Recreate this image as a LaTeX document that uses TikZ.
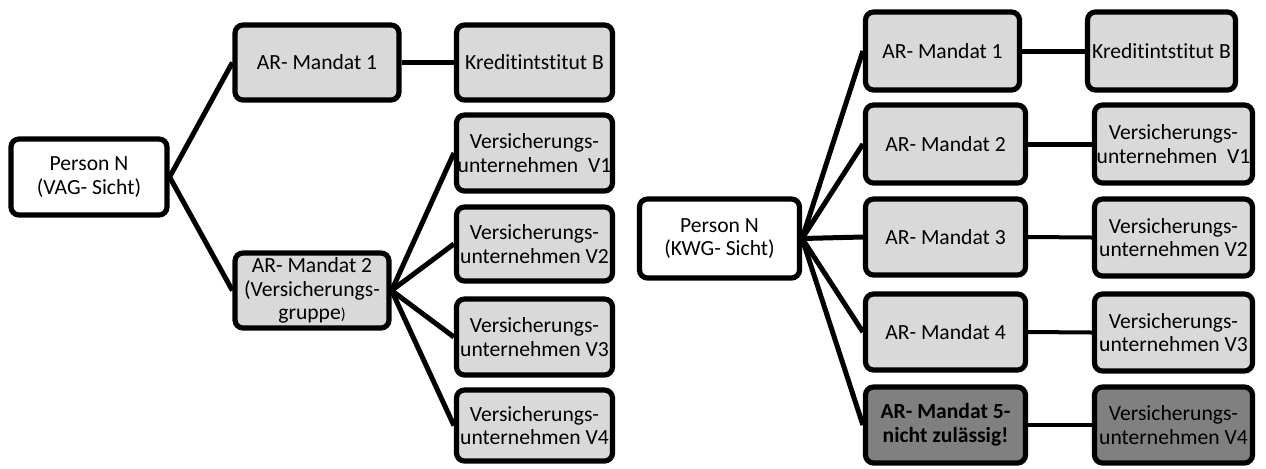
\documentclass[tikz,border=0pt]{standalone}
\usepackage{fontspec}
\setmainfont{Carlito}[Ligatures=NoCommon]
\usetikzlibrary{positioning}

\begin{document}
\begin{tikzpicture}[x=0.5pt,y=-0.5pt,
  box/.style={draw=black, line width=2.6pt, rounded corners=4pt, align=center,
    inner sep=0pt, font=\fontsize{10.8}{11.8}\selectfont},
  lightbox/.style={box, fill=black!15},
  darkbox/.style={box, fill=black!50},
  whitebox/.style={box, fill=white},
  link/.style={line width=2.5pt},
  thinlink/.style={line width=2pt}]
\useasboundingbox (0,0) rectangle (1266,468);
% VAG-Sicht
\node (pv) at (89,177) [whitebox, minimum width=78pt, minimum height=38pt] {Person N\\(VAG- Sicht)};
\node (lm1) at (317,62.5) [lightbox, minimum width=82pt, minimum height=37.5pt] {AR- Mandat 1};
\node (lm2) at (312,290.5) [lightbox, minimum width=77pt, minimum height=37.5pt] {AR- Mandat 2\\(Versicherungs-\\gruppe{\footnotesize)}};
\node (lkb) at (534.5,62.5) [lightbox, minimum width=78pt, minimum height=37.5pt] {Kreditintstitut B};
\node (lv1) at (534.5,153) [lightbox, minimum width=78pt, minimum height=38pt] {Versicherungs-\\unternehmen\ \ V1};
\node (lv2) at (534.5,244) [lightbox, minimum width=78pt, minimum height=37pt] {Versicherungs-\\unternehmen V2};
\node (lv3) at (534.5,337) [lightbox, minimum width=78pt, minimum height=38pt] {Versicherungs-\\unternehmen V3};
\node (lv4) at (534.5,425.5) [lightbox, minimum width=78pt, minimum height=35.5pt] {Versicherungs-\\unternehmen V4};
\draw [link] (pv.east) -- (lm1.west);
\draw [link] (pv.east) -- (lm2.west);
\draw [link] (lm1.east) -- (lkb.west);
\draw [link] (lm2.east) -- (lv1.west);
\draw [link] (lm2.east) -- (lv2.west);
\draw [link] (lm2.east) -- (lv3.west);
\draw [link] (lm2.east) -- (lv4.west);
% KWG-Sicht
\node (pk) at (719.5,238.5) [whitebox, minimum width=80pt, minimum height=39.5pt] {Person N\\(KWG- Sicht)};
\node (rm1) at (942.5,51) [lightbox, minimum width=77pt, minimum height=39pt] {AR- Mandat 1};
\node (rm2) at (945.5,144) [lightbox, minimum width=80pt, minimum height=39pt] {AR- Mandat 2};
\node (rm3) at (945.5,237) [lightbox, minimum width=80pt, minimum height=38pt] {AR- Mandat 3};
\node (rm4) at (945.5,332) [lightbox, minimum width=80pt, minimum height=38pt] {AR- Mandat 4};
\node (rm5) at (945.5,425) [darkbox, minimum width=80pt, minimum height=38pt] {\bfseries AR- Mandat 5-\\\bfseries nicht zulässig!};
\node (rkb) at (1161.5,51) [lightbox, minimum width=74pt, minimum height=39pt] {Kreditintstitut B};
\node (rv1) at (1173.5,144) [lightbox, minimum width=79pt, minimum height=39pt] {Versicherungs-\\unternehmen\ \ V1};
\node (rv2) at (1173.5,237.5) [lightbox, minimum width=79pt, minimum height=38.5pt] {Versicherungs-\\unternehmen V2};
\node (rv3) at (1173.5,332.5) [lightbox, minimum width=79pt, minimum height=38.5pt] {Versicherungs-\\unternehmen V3};
\node (rv4) at (1173.5,425) [darkbox, minimum width=79pt, minimum height=38pt] {Versicherungs-\\unternehmen V4};
\foreach \m in {rm1,rm2,rm3,rm4,rm5}
  \draw [link] (pk.east) -- (\m.west);
\draw [link] (rm1.east) -- (rkb.west);
\draw [link] (rm2.east) -- (rv1.west);
\draw [thinlink] (rm3.east) -- (rv2.west);
\draw [thinlink] (rm4.east) -- (rv3.west);
\draw [thinlink] (rm5.east) -- (rv4.west);
\end{tikzpicture}
\end{document}
